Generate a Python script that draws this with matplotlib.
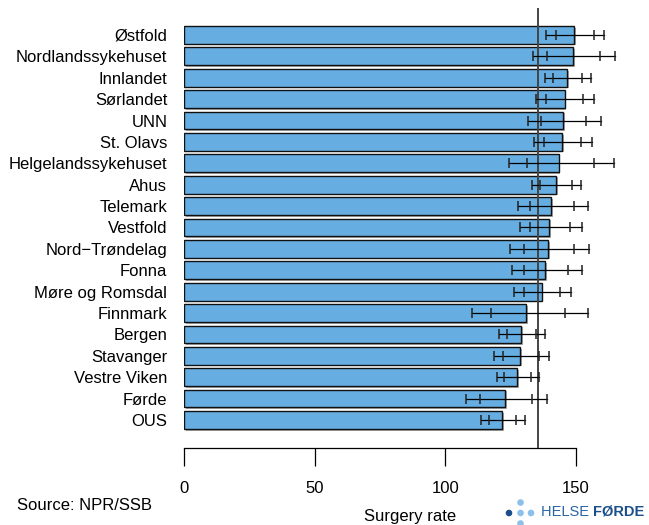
import matplotlib
matplotlib.use("Agg")
import matplotlib.pyplot as plt
import matplotlib.patheffects as pe
import matplotlib.patches as mpatches
import numpy as np

plt.rcParams['font.family'] = ['Liberation Sans', 'DejaVu Sans']

regions = ["Østfold", "Nordlandssykehuset", "Innlandet", "Sørlandet", "UNN",
           "St. Olavs", "Helgelandssykehuset", "Ahus", "Telemark", "Vestfold",
           "Nord\u2212Trøndelag", "Fonna", "Møre og Romsdal", "Finnmark", "Bergen",
           "Stavanger", "Vestre Viken", "Førde", "OUS"]
rate = [149.5, 148.9, 146.8, 145.7, 145.2, 144.9, 143.5, 142.5, 140.7, 139.9,
        139.4, 138.4, 136.9, 131.0, 129.1, 128.8, 127.6, 123.0, 121.8]
outer_lo = [138.7, 133.6, 138.3, 134.7, 131.8, 134.2, 124.5, 133.2, 127.9, 128.5,
            124.9, 125.4, 126.4, 110.2, 120.7, 118.6, 119.7, 108.0, 113.8]
inner_lo = [142.6, 139.0, 141.3, 138.5, 136.5, 138.0, 131.3, 136.4, 132.4, 132.4,
            130.0, 130.0, 130.1, 117.5, 123.7, 122.2, 122.5, 113.4, 116.7]
inner_hi = [156.8, 159.2, 152.4, 152.7, 154.1, 152.1, 156.8, 148.5, 149.5, 147.7,
            149.3, 147.2, 143.9, 145.9, 134.7, 135.9, 132.7, 133.2, 127.3]
outer_hi = [161.0, 165.2, 155.9, 156.9, 159.5, 156.3, 164.6, 152.1, 154.6, 152.3,
            155.1, 152.4, 148.0, 154.7, 138.2, 139.8, 135.9, 139.0, 130.6]
national = 135.5
xticks = [0, 50, 100, 150]

fig = plt.figure(figsize=(6.49, 5.25), dpi=100)
ax = fig.add_axes([184/649, 77/525, 444/649, 440/525])

n = len(regions)
y = np.arange(n)[::-1]

bars = ax.barh(y, rate, height=0.83, color='#66AEE2', edgecolor='#111111',
               linewidth=1.0, zorder=2)
for b in bars:
    b.set_path_effects([pe.SimplePatchShadow(offset=(1.2, -1.2), shadow_rgbFace='#555555', alpha=0.5),
                        pe.Normal()])

ax.axvline(national, color='#444444', lw=1.4, zorder=3)

for yi, a, b_, c, d in zip(y, outer_lo, inner_lo, inner_hi, outer_hi):
    ax.plot([a, d], [yi, yi], color='black', lw=0.9, zorder=4)
    ax.plot([a, b_, c, d], [yi]*4, linestyle='none', marker='|', ms=6.5,
            mew=1.1, color='#222222', zorder=4)

ax.set_xlim(0, 170)
ax.set_ylim(-1.31, n - 1 + 1.26)
ax.set_yticks(y)
ax.set_yticklabels(regions, fontsize=12)
ax.tick_params(axis='y', length=0, pad=12)
ax.set_xticks(xticks)
ax.set_xticklabels([str(t) for t in xticks], fontsize=12)
ax.tick_params(axis='x', length=13, width=0.9, pad=11)
for s in ['top', 'right', 'left']:
    ax.spines[s].set_visible(False)
ax.spines['bottom'].set_bounds(0, 150)
ax.spines['bottom'].set_linewidth(0.9)

fig.text(17/649, 1 - 505/525, "Source: NPR/SSB", fontsize=12, ha='left', va='center')
fig.text(410/649, 1 - 517/525, "Surgery rate", fontsize=12, ha='center', va='center')

# logo
dots_x = [509, 520.5, 531, 520.5, 520.5]
dots_y = [513, 513, 513, 502.5, 523.5]
dots_c = ['#1a4f8b', '#8cc0ea', '#8cc0ea', '#8cc0ea', '#8cc0ea']
for dx, dy, dc in zip(dots_x, dots_y, dots_c):
    fig.add_artist(mpatches.Ellipse((dx/649, 1 - dy/525), 5.2/649, 5.2/525,
                                    transform=fig.transFigure, color=dc))
t1 = fig.text(541/649, 1 - 512/525, "HELSE ", fontsize=10.5, color='#2a65a8',
              ha='left', va='center')
fig.canvas.draw()
bb = t1.get_window_extent()
fig.text(bb.x1/649, 1 - 512/525, "FØRDE", fontsize=10.5, color='#1a4f8b',
         fontweight='bold', ha='left', va='center')

fig.savefig("out.png", dpi=100)
